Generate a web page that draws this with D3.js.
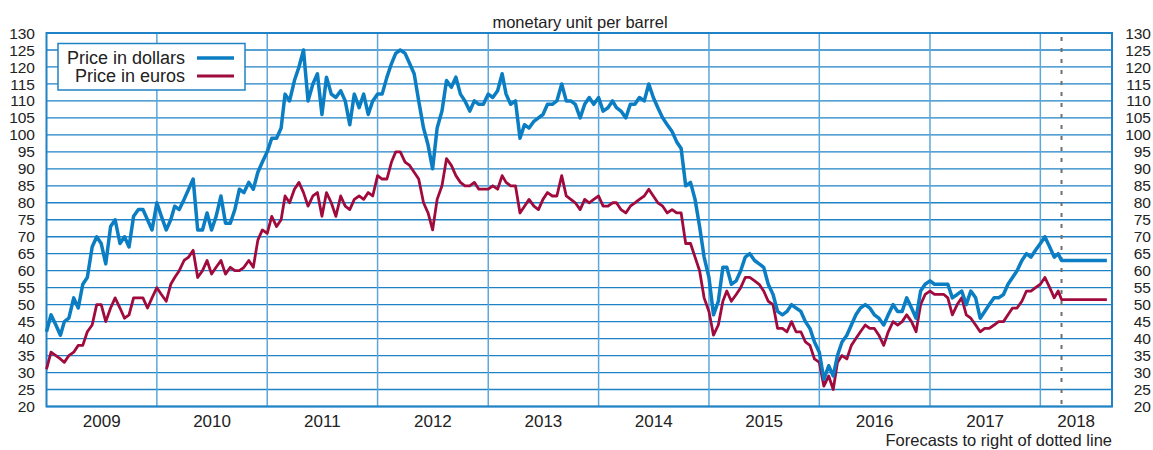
<!DOCTYPE html>
<html>
<head>
<meta charset="utf-8">
<script src="https://cdn.jsdelivr.net/npm/d3@7"></script>
<style>
    body { margin: 0; background: #fff; }
    text { font-family: "Liberation Sans", Arial, Helvetica, sans-serif; fill: #222; }
</style>
</head>
<body>
<script>
// half-monthly readings (1st and 16th of each month), Jan 2009 - Mar 2018
var dollars = [
    42, 47, 44, 41, 45, 46, 52, 49, 56, 58, 67, 70, 68, 62, 73, 75, 68, 70, 67, 76, 78, 78, 75, 72,
    80, 76, 72, 75, 79, 78, 81, 84, 87, 72, 72, 77, 72, 76, 82, 74, 74, 78, 84, 83, 86, 84, 89, 92,
    95, 99, 99, 102, 112, 110, 116, 120, 125, 110, 115, 118, 106, 117, 112, 111, 113, 110, 103, 112, 108, 112, 106, 110,
    112, 112, 117, 121, 124, 125, 124, 121, 118, 110, 102, 97, 90, 102, 107, 116, 114, 117, 112, 110, 107, 110, 109, 109,
    112, 111, 113, 118, 112, 109, 110, 99, 103, 102, 104, 105, 106, 109, 109, 110, 115, 110, 110, 109, 105, 109, 111, 109,
    111, 107, 108, 110, 108, 107, 105, 109, 109, 111, 110, 115, 111, 108, 105, 103, 101, 98, 96, 85, 86, 81, 73, 64,
    58, 47, 51, 61, 61, 56, 57, 60, 64, 65, 63, 62, 61, 56, 53, 48, 47, 48, 50, 49, 48, 45, 43, 39,
    36, 28, 32, 29, 35, 39, 41, 44, 47, 49, 50, 49, 47, 46, 44, 47, 50, 48, 48, 52, 49, 46, 54, 56,
    57, 56, 56, 56, 56, 52, 53, 54, 50, 54, 52, 46, 48, 50, 52, 52, 53, 56, 58, 60, 63, 65, 64, 66,
    68, 70, 67, 64, 65
];
var euros = [
    31, 36, 35, 34, 33, 35, 36, 38, 38, 42, 44, 50, 50, 45, 49, 52, 49, 46, 47, 52, 52, 52, 49, 52,
    55, 53, 51, 56, 58, 60, 63, 64, 66, 58, 60, 63, 59, 61, 63, 59, 61, 60, 60, 61, 63, 61, 69, 72,
    71, 76, 73, 75, 82, 80, 84, 86, 83, 79, 82, 83, 76, 83, 80, 76, 82, 79, 78, 81, 82, 81, 83, 82,
    88, 87, 87, 92, 95, 95, 92, 91, 89, 87, 80, 77, 72, 81, 85, 93, 91, 88, 86, 85, 85, 86, 84, 84,
    84, 85, 84, 88, 86, 85, 85, 77, 79, 81, 79, 78, 81, 83, 82, 82, 88, 82, 81, 80, 78, 81, 80, 81,
    82, 79, 79, 80, 80, 78, 77, 79, 80, 81, 82, 84, 82, 80, 79, 77, 78, 77, 77, 68, 68, 64, 60, 52,
    48, 41, 44, 51, 54, 51, 53, 55, 58, 58, 57, 56, 54, 51, 50, 43, 43, 42, 45, 42, 42, 39, 38, 34,
    33, 26, 29, 25, 33, 35, 34, 38, 40, 42, 44, 43, 43, 41, 38, 42, 45, 44, 45, 47, 45, 42, 50, 53,
    54, 53, 53, 53, 52, 47, 50, 52, 47, 46, 44, 42, 43, 43, 44, 45, 45, 47, 49, 49, 51, 54, 54, 55,
    56, 58, 55, 52, 54
];

// forecast (flat) to the right of the dotted line
var forecastDates = ["2018-03-12", "2018-08-09"];
var forecastDollars = [63, 63];
var forecastEuros = [51.5, 51.5];

var years = [2009, 2010, 2011, 2012, 2013, 2014, 2015, 2016, 2017, 2018];
var yTicks = d3.range(20, 131, 5);

// plot box (note: "top" is taken by window.top, so use a margin object)
var W = 1153, H = 450;
var box = { left: 46.5, right: 1112, top: 33, bottom: 406.5 };

var parse = d3.timeParse("%Y-%m-%d");
var startDate = parse("2009-01-01"), endDate = parse("2018-08-26");

// date of k-th half-month reading
function dateOf(k) {
    return new Date(2009 + Math.floor(k / 24), Math.floor((k % 24) / 2), k % 2 ? 16 : 1);
}

var x = d3.scaleTime().domain([startDate, endDate]).range([box.left, box.right]);
var y = d3.scaleLinear().domain([20, 130]).range([box.bottom, box.top]);

var svg = d3.select("body").append("svg")
    .attr("width", W)
    .attr("height", H);

// horizontal grid
svg.append("g").selectAll("line")
    .data(yTicks)
    .enter().append("line")
    .attr("x1", box.left).attr("x2", box.right)
    .attr("y1", function (d) { return y(d); })
    .attr("y2", function (d) { return y(d); })
    .attr("stroke", "#1f82c6")
    .attr("stroke-width", 1.3);

// year separators
svg.append("g").selectAll("line")
    .data(years.slice(1))
    .enter().append("line")
    .attr("x1", function (d) { return x(new Date(d, 0, 1)); })
    .attr("x2", function (d) { return x(new Date(d, 0, 1)); })
    .attr("y1", box.top).attr("y2", box.bottom)
    .attr("stroke", "#5ea7da")
    .attr("stroke-width", 1.5);

// dotted forecast divider
var fx = x(parse(forecastDates[0]));
svg.append("line")
    .attr("x1", fx).attr("x2", fx)
    .attr("y1", box.top + 4).attr("y2", box.bottom)
    .attr("stroke", "#707070")
    .attr("stroke-width", 2)
    .attr("stroke-dasharray", "4,7");

// frame
svg.append("rect")
    .attr("x", box.left).attr("y", box.top)
    .attr("width", box.right - box.left).attr("height", box.bottom - box.top)
    .attr("fill", "none")
    .attr("stroke", "#1f82c6")
    .attr("stroke-width", 2);

// y tick labels both sides
[35, 1151].forEach(function (tx) {
    svg.append("g").selectAll("text")
        .data(yTicks)
        .enter().append("text")
        .attr("x", tx)
        .attr("y", function (d) { return y(d); })
        .attr("dy", "0.36em")
        .attr("text-anchor", "end")
        .style("font-size", "15.5px")
        .text(function (d) { return d; });
});

// year labels centred in each (visible) year
svg.append("g").selectAll("text")
    .data(years)
    .enter().append("text")
    .attr("x", function (d) {
        var a = x(new Date(d, 0, 1));
        var b = Math.min(x(new Date(d + 1, 0, 1)), box.right);
        return (a + b) / 2;
    })
    .attr("y", 427)
    .attr("text-anchor", "middle")
    .style("font-size", "17px")
    .text(function (d) { return d; });

svg.append("text")
    .attr("x", 1112).attr("y", 446.3)
    .attr("text-anchor", "end")
    .style("font-size", "16.5px")
    .text("Forecasts to right of dotted line");

svg.append("text")
    .attr("x", 580).attr("y", 28)
    .attr("text-anchor", "middle")
    .style("font-size", "16.5px")
    .text("monetary unit per barrel");

// build series
function series(vals, fvals) {
    var pts = vals.map(function (v, k) { return { date: dateOf(k), value: v }; });
    forecastDates.forEach(function (d, i) { pts.push({ date: parse(d), value: fvals[i] }); });
    return pts;
}

var line = d3.line()
    .x(function (d) { return x(d.date); })
    .y(function (d) { return y(d.value); });

svg.append("path")
    .datum(series(euros, forecastEuros))
    .attr("d", line)
    .attr("fill", "none")
    .attr("stroke", "#a00a3c")
    .attr("stroke-width", 2.8)
    .attr("stroke-linejoin", "round");

svg.append("path")
    .datum(series(dollars, forecastDollars))
    .attr("d", line)
    .attr("fill", "none")
    .attr("stroke", "#0b7dc2")
    .attr("stroke-width", 3.5)
    .attr("stroke-linejoin", "round");

// legend
var legend = svg.append("g");
legend.append("rect")
    .attr("x", 58).attr("y", 43.5)
    .attr("width", 187).attr("height", 46.5)
    .attr("fill", "#fff")
    .attr("stroke", "#1f82c6")
    .attr("stroke-width", 1.5);

var legendItems = [
    { label: "Price in dollars", color: "#0b7dc2", width: 3.5, y: 58 },
    { label: "Price in euros", color: "#a00a3c", width: 2.8, y: 76 }
];
legendItems.forEach(function (d) {
    legend.append("text")
        .attr("x", 185).attr("y", d.y)
        .attr("dy", "0.36em")
        .attr("text-anchor", "end")
        .style("font-size", "18px")
        .text(d.label);
    legend.append("line")
        .attr("x1", 197).attr("x2", 234)
        .attr("y1", d.y).attr("y2", d.y)
        .attr("stroke", d.color)
        .attr("stroke-width", d.width);
});
</script>
</body>
</html>
